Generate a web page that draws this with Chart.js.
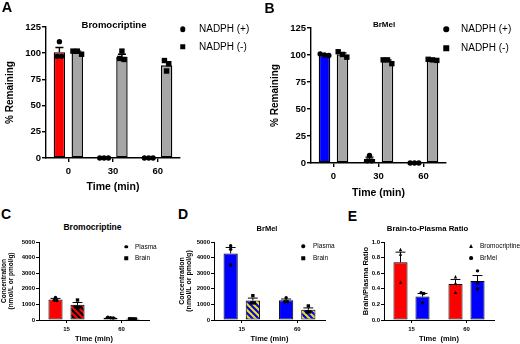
<!DOCTYPE html>
<html>
<head>
<meta charset="utf-8">
<script src="https://cdn.jsdelivr.net/npm/chart.js@4"></script>
<style>
  html, body { margin: 0; padding: 0; background: #fff; }
  #fig { position: relative; width: 520px; height: 344px; overflow: hidden; font-family: 'Liberation Sans', Arial, sans-serif; color: #000; }
  #fig canvas { position: absolute; }
  .t { position: absolute; white-space: nowrap; transform: translate(-50%, -50%); line-height: 1; font-weight: bold; }
  .lg { position: absolute; white-space: nowrap; transform: translateY(-50%); line-height: 1; }
  .mk { position: absolute; transform: translate(-50%, -50%); background: #000; }
</style>
</head>
<body>
<div id="fig">
  <canvas id="cA" width="182" height="200" style="left:0;top:0"></canvas>
  <canvas id="cB" width="183" height="206" style="left:265px;top:0"></canvas>
  <canvas id="cC" width="151" height="112" style="left:0;top:232px"></canvas>
  <canvas id="cD" width="152" height="112" style="left:175px;top:232px"></canvas>
  <canvas id="cE" width="175" height="112" style="left:345px;top:232px"></canvas>

  <div class="t" style="left:7px;top:7px;font-size:14.5px">A</div>
  <div class="t" style="left:269.5px;top:8px;font-size:14px">B</div>
  <div class="t" style="left:6px;top:213.5px;font-size:14px">C</div>
  <div class="t" style="left:183px;top:214px;font-size:14px">D</div>
  <div class="t" style="left:352.5px;top:215.5px;font-size:14px">E</div>

  <div class="t" style="left:114px;top:25px;font-size:9.5px">Bromocriptine</div>
  <div class="t" style="left:384px;top:24.5px;font-size:8px">BrMel</div>
  <div class="t" style="left:92.5px;top:227px;font-size:8.5px">Bromocriptine</div>
  <div class="t" style="left:267px;top:229px;font-size:7.5px">BrMel</div>
  <div class="t" style="left:427.5px;top:228.5px;font-size:7.8px">Brain-to-Plasma Ratio</div>
</div>
<script>
const timesAB = ['0', '30', '60'];
const timesCDE = ['15', '60'];
const legendAB = ['NADPH (+)', 'NADPH (-)'];
const legendCD = ['Plasma', 'Brain'];
const legendE = ['Bromocriptine', 'BrMel'];

// A - bromocriptine, % remaining
const bromoPlus = [101, 0, 0];
const bromoPlusSem = [4.5, 0, 0];
const bromoPlusReps = [[97, 111, 97], [0, 0, 0], [0, 0, 0]];
const bromoMinus = [100.5, 96.5, 88.5];
const bromoMinusSem = [1.5, 2.5, 3.2];
const bromoMinusReps = [[99, 102, 102], [95, 102, 94], [93, 83, 90]];

// B - BrMel, % remaining
const brmelPlus = [100, 3.7, 0];
const brmelPlusSem = [0.5, 1.7, 0];
const brmelPlusReps = [[100, 101, 99.5], [2, 7, 2], [0, 0, 0]];
const brmelMinus = [100.5, 94.3, 95.5];
const brmelMinusSem = [1.5, 1.1, 0.3];
const brmelMinusReps = [[98, 103, 100.5], [92, 95.5, 95.5], [95, 96, 95.5]];

// C - bromocriptine concentration
const bromoPlasma = [1320, 150];
const bromoPlasmaSem = [65, 15];
const bromoPlasmaReps = [[1450, 1250, 1260], [140, 180, 130]];
const bromoBrain = [970, 75];
const bromoBrainSem = [150, 5];
const bromoBrainReps = [[1280, 800, 830], [70, 80, 75]];

// D - BrMel concentration
const brmelPlasma = [4270, 1260];
const brmelPlasmaSem = [380, 85];
const brmelPlasmaReps = [[4760, 3530, 4530], [1170, 1430, 1170]];
const brmelBrain = [1250, 650];
const brmelBrainSem = [155, 125];
const brmelBrainReps = [[1100, 1560, 1100], [530, 900, 520]];

// E - brain/plasma ratio
const ratioBromo = [0.74, 0.46];
const ratioBromoSem = [0.13, 0.06];
const ratioBromoReps = [[0.90, 0.84, 0.48], [0.55, 0.47, 0.35]];
const ratioBrmel = [0.30, 0.50];
const ratioBrmelSem = [0.04, 0.07];
const ratioBrmelReps = [[0.35, 0.34, 0.22], [0.63, 0.47, 0.40]];

Chart.defaults.font.family = "'Liberation Sans', Arial, sans-serif";
Chart.defaults.color = '#000';

const RED = '#ff0000', BLUE = '#0000ff', GRAY = '#a6a6a6';

function stripes(bg, fg) {
  const c = document.createElement('canvas');
  c.width = 6; c.height = 6;
  const g = c.getContext('2d');
  g.fillStyle = bg; g.fillRect(0, 0, 6, 6);
  g.strokeStyle = fg; g.lineWidth = 2;
  g.beginPath();
  g.moveTo(-1, -1); g.lineTo(7, 7);
  g.moveTo(-1, 5); g.lineTo(1, 7);
  g.moveTo(5, -1); g.lineTo(7, 1);
  g.stroke();
  return g.createPattern(c, 'repeat');
}

function drawMark(ctx, shape, x, y, r) {
  ctx.beginPath();
  if (shape === 'circle') ctx.arc(x, y, r, 0, Math.PI * 2);
  else if (shape === 'rect') ctx.rect(x - r, y - r, 2 * r, 2 * r);
  else { ctx.moveTo(x, y - r * 1.2); ctx.lineTo(x + r, y + r * 0.8); ctx.lineTo(x - r, y + r * 0.8); ctx.closePath(); }
  ctx.fill();
}

// error bars (mean + SEM, upward) and individual replicates
const dotsAndErrors = {
  id: 'dotsAndErrors',
  afterDatasetsDraw(chart, args, opts) {
    const ctx = chart.ctx;
    const y = chart.scales.y;
    ctx.save();
    ctx.strokeStyle = '#000';
    ctx.fillStyle = '#000';
    ctx.lineWidth = opts.lw;
    chart.data.datasets.forEach((ds, i) => {
      chart.getDatasetMeta(i).data.forEach((bar, j) => {
        const w = bar.width;
        const topPx = y.getPixelForValue(ds.data[j]);
        if (ds.sem[j] > 0) {
          const e = y.getPixelForValue(ds.data[j] + ds.sem[j]);
          ctx.beginPath();
          ctx.moveTo(bar.x, topPx); ctx.lineTo(bar.x, e);
          ctx.moveTo(bar.x - w * 0.35, e); ctx.lineTo(bar.x + w * 0.35, e);
          ctx.stroke();
        }
        // points that sit close together vertically get spread sideways
        const d = opts.r * 1.6;
        const pts = ds.reps[j].map(v => ({ py: y.getPixelForValue(v) })).sort((a, b) => a.py - b.py);
        let group = [];
        const flush = () => {
          group.forEach((p, k) => drawMark(ctx, ds.mark, bar.x + (k - (group.length - 1) / 2) * d, p.py, opts.r));
          group = [];
        };
        pts.forEach(p => {
          if (group.length && p.py - group[group.length - 1].py >= d) flush();
          group.push(p);
        });
        flush();
      });
    });
    ctx.restore();
  }
};

function panel(id, o) {
  return new Chart(document.getElementById(id), {
    type: 'bar',
    data: {
      labels: o.labels,
      datasets: o.series.map(s => ({
        label: s.name, data: s.mean, sem: s.sem, reps: s.reps, mark: s.mark,
        backgroundColor: s.fill, borderColor: '#000', borderWidth: o.lw, borderSkipped: false,
        categoryPercentage: 0.8, barPercentage: 0.64
      }))
    },
    options: {
      responsive: false,
      animation: false,
      events: [],
      layout: { padding: { top: o.padTop, right: o.right, left: 0, bottom: 0 } },
      plugins: {
        legend: { display: false },
        tooltip: { enabled: false },
        dotsAndErrors: { r: o.r, lw: o.lw }
      },
      scales: {
        x: {
          offset: true,
          grid: { offset: false, drawOnChartArea: false, color: '#000', tickLength: o.tl, lineWidth: o.lw },
          border: { color: '#000', width: o.lw },
          ticks: { font: { size: o.tick, weight: 'bold' }, color: '#000', padding: o.xpad },
          title: { display: true, text: o.xTitle, color: '#000', font: { size: o.xts, weight: 'bold', lineHeight: 1.2 }, padding: { top: 0, bottom: o.xtb } },
          afterFit: s => { s.height = o.xh; }
        },
        y: {
          min: 0, max: o.ymax,
          grid: { drawOnChartArea: false, color: '#000', tickLength: o.tl, lineWidth: o.lw },
          border: { color: '#000', width: o.lw },
          ticks: { stepSize: o.step, font: { size: o.tick, weight: 'bold' }, color: '#000', padding: 1, callback: o.fmt },
          title: { display: true, text: o.yTitle, color: '#000', font: { size: o.yts, weight: 'bold', lineHeight: o.ylh }, padding: { top: o.ytp, bottom: 0 } },
          afterFit: s => { s.width = o.yw; }
        }
      }
    },
    plugins: [dotsAndErrors]
  });
}

const topCfg = { lw: 1.4, r: 2.7, tl: 4, tick: 9.5, xpad: 3.3, xts: 10.5, xtb: 6.7, yts: 10, ylh: 1.2, ytp: 4, yw: 46, right: 2, step: 25, ymax: 125, xTitle: 'Time (min)', yTitle: '% Remaining' };
const bottomCfg = { lw: 1, r: 1.7, tl: 3, tick: 6, xpad: 2.4, xts: 7.5, xtb: 0.5, yw: 39, xh: 24, padTop: 10 };

panel('cA', Object.assign({}, topCfg, {
  labels: timesAB, padTop: 27, xh: 42,
  series: [
    { name: legendAB[0], mean: bromoPlus, sem: bromoPlusSem, reps: bromoPlusReps, mark: 'circle', fill: RED },
    { name: legendAB[1], mean: bromoMinus, sem: bromoMinusSem, reps: bromoMinusReps, mark: 'rect', fill: GRAY }
  ]
}));

panel('cB', Object.assign({}, topCfg, {
  labels: timesAB, padTop: 28, xh: 43,
  series: [
    { name: legendAB[0], mean: brmelPlus, sem: brmelPlusSem, reps: brmelPlusReps, mark: 'circle', fill: BLUE },
    { name: legendAB[1], mean: brmelMinus, sem: brmelMinusSem, reps: brmelMinusReps, mark: 'rect', fill: GRAY }
  ]
}));

const concTitle = ['Concentration', '(nmol/L or pmol/g)'];

panel('cC', Object.assign({}, bottomCfg, {
  labels: timesCDE, right: 2, ymax: 5000, step: 1000, xTitle: 'Time (min)',
  yTitle: concTitle, yts: 6.5, ylh: 1.05, ytp: 1,
  series: [
    { name: legendCD[0], mean: bromoPlasma, sem: bromoPlasmaSem, reps: bromoPlasmaReps, mark: 'circle', fill: RED },
    { name: legendCD[1], mean: bromoBrain, sem: bromoBrainSem, reps: bromoBrainReps, mark: 'rect', fill: stripes(RED, '#000') }
  ]
}));

panel('cD', Object.assign({}, bottomCfg, {
  labels: timesCDE, right: 2, ymax: 5000, step: 1000, xTitle: 'Time (min)',
  yTitle: concTitle, yts: 7, ylh: 1.0, ytp: 4,
  series: [
    { name: legendCD[0], mean: brmelPlasma, sem: brmelPlasmaSem, reps: brmelPlasmaReps, mark: 'circle', fill: BLUE },
    { name: legendCD[1], mean: brmelBrain, sem: brmelBrainSem, reps: brmelBrainReps, mark: 'rect', fill: stripes(BLUE, '#f5e600') }
  ]
}));

panel('cE', Object.assign({}, bottomCfg, {
  labels: timesCDE, right: 26, ymax: 1, step: 0.2, xTitle: 'Time  (min)', fmt: v => v.toFixed(1),
  yTitle: 'Brain/Plasma Ratio', yts: 7.5, ylh: 1.2, ytp: 16,
  series: [
    { name: legendE[0], mean: ratioBromo, sem: ratioBromoSem, reps: ratioBromoReps, mark: 'triangle', fill: RED },
    { name: legendE[1], mean: ratioBrmel, sem: ratioBrmelSem, reps: ratioBrmelReps, mark: 'circle', fill: BLUE }
  ]
}));

// legends as html
const fig = document.getElementById('fig');
function legend(names, shapes, mx, tx, ys, size, mk) {
  names.forEach((n, i) => {
    const m = document.createElement('div');
    m.className = 'mk';
    m.style.left = mx + 'px'; m.style.top = ys[i] + 'px';
    m.style.width = mk + 'px'; m.style.height = mk + 'px';
    if (shapes[i] === 'circle') m.style.borderRadius = '50%';
    if (shapes[i] === 'triangle') m.style.clipPath = 'polygon(50% 0, 100% 100%, 0 100%)';
    fig.appendChild(m);
    const t = document.createElement('div');
    t.className = 'lg';
    t.textContent = n;
    t.style.left = tx + 'px'; t.style.top = ys[i] + 'px';
    t.style.fontSize = size + 'px';
    fig.appendChild(t);
  });
}
legend(legendAB, ['circle', 'rect'], 182.7, 199, [29.3, 46.7], 10, 5.5);
legend(legendAB, ['circle', 'rect'], 446.3, 461, [29.2, 48.3], 10, 5.5);
legend(legendCD, ['circle', 'rect'], 126, 135, [246.7, 258], 6.5, 3.5);
legend(legendCD, ['circle', 'rect'], 303, 313, [246, 258], 6.5, 3.5);
legend(legendE, ['triangle', 'circle'], 471, 480, [246, 258], 6.5, 3.8);
</script>
</body>
</html>
